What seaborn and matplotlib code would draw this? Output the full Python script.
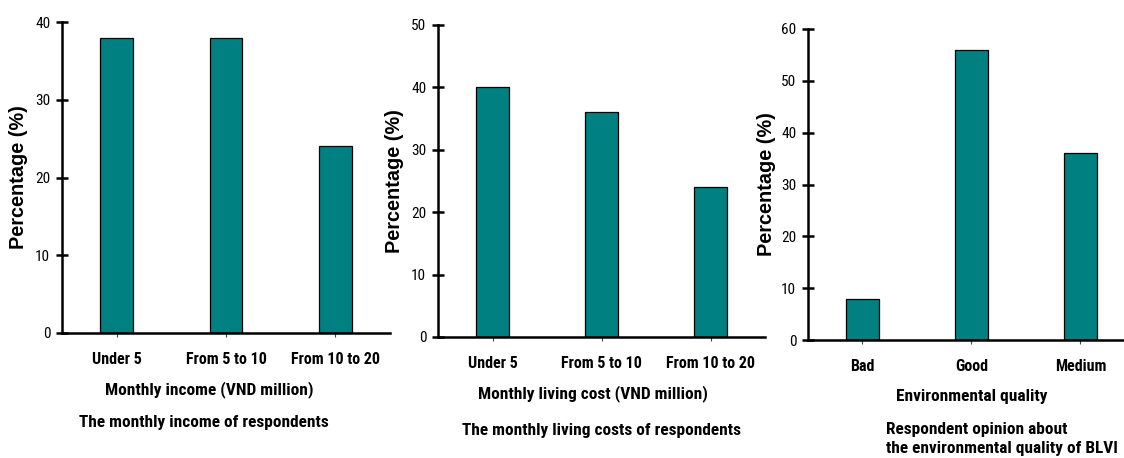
import matplotlib
matplotlib.use("Agg")
import matplotlib.pyplot as plt
from matplotlib import font_manager
import seaborn as sns
import pandas as pd

sns.set_theme(style="white")

names = {f.name for f in font_manager.fontManager.ttflist}
NARROW = "Roboto Condensed" if "Roboto Condensed" in names else "Liberation Sans"
REG = "Liberation Sans"
plt.rcParams["font.family"] = [REG, "DejaVu Sans"]
plt.rcParams["text.color"] = "black"
plt.rcParams["axes.labelcolor"] = "black"

# Data
income_cats = ["Under 5", "From 5 to 10", "From 10 to 20"]
income_vals = [38, 38, 24]
cost_cats = ["Under 5", "From 5 to 10", "From 10 to 20"]
cost_vals = [40, 36, 24]
env_cats = ["Bad", "Good", "Medium"]
env_vals = [8, 56, 36]

xlabels = ["Monthly income (VND million)", "Monthly living cost (VND million)", "Environmental quality"]
captions = ["The monthly income of respondents", "The monthly living costs of respondents",
            "Respondent opinion about\nthe environmental quality of BLVI"]
yticks_list = [[0, 10, 20, 30, 40], [0, 10, 20, 30, 40, 50], [0, 10, 20, 30, 40, 50, 60]]

W, H = 1124, 458
fig = plt.figure(figsize=(W / 100, H / 100), dpi=100)

def fx(px):
    return px / W

def fy(py):
    return 1 - py / H

# axes boxes in pixels: left, right, top(y of max tick), bottom(y of zero)
boxes = [(62, 390, 22, 333), (438, 765, 25, 337), (808, 1124, 29, 340)]
xlims = [(-0.5, 2.5), (-0.5, 2.5), (-0.5, 2.4)]
xlabel_pos = [(209, 390), (593, 394), (972, 397)]
caption_pos = [(204, 422, "center"), (601, 430, "center"), (886, 439, "left")]
ylabel_x = [19, 395, 766]

datasets = [(income_cats, income_vals), (cost_cats, cost_vals), (env_cats, env_vals)]
teal = "#008080"

for i, ((cats, vals), (l, r, t, b)) in enumerate(zip(datasets, boxes)):
    ax = fig.add_axes([fx(l), fy(b), fx(r - l), (b - t) / H])
    df = pd.DataFrame({"cat": cats, "val": vals})
    sns.barplot(data=df, x="cat", y="val", ax=ax, color=teal, saturation=1,
                width=0.3, edgecolor="black", linewidth=0.9)
    yt = yticks_list[i]
    ax.set_ylim(0, yt[-1])
    ax.set_xlim(*xlims[i])
    ax.set_yticks(yt)
    ax.set_yticklabels([str(v) for v in yt], fontfamily=NARROW, fontsize=11, color="black")
    ax.set_xticks(range(len(cats)))
    ax.set_xticklabels(cats, fontfamily=NARROW, fontsize=11.5, fontweight="bold", color="black")
    for side in ["top", "right"]:
        ax.spines[side].set_visible(False)
    for side in ["left", "bottom"]:
        ax.spines[side].set_visible(True)
        ax.spines[side].set_color("black")
        ax.spines[side].set_linewidth(1.8)
    ax.tick_params(axis="y", left=True, direction="inout", length=9, width=1.8,
                   color="black", labelcolor="black", pad=4)
    ax.tick_params(axis="x", bottom=True, direction="out", length=3, width=0.8,
                   color="#444444", labelcolor="black", pad=11)
    ax.set_xlabel(xlabels[i], fontfamily=NARROW, fontsize=12.5, fontweight="bold", color="black")
    ax.xaxis.set_label_coords(fx(xlabel_pos[i][0]), fy(xlabel_pos[i][1]), transform=fig.transFigure)
    ax.xaxis.label.set_va("center")
    ax.set_ylabel("Percentage (%)", fontsize=14.3, fontweight="bold", fontfamily=REG, color="black")
    ax.yaxis.set_label_coords(fx(ylabel_x[i]), fy((t + b) / 2), transform=fig.transFigure)
    ax.yaxis.label.set_va("center")
    ax.set_facecolor("none")
    ax.grid(False)
    cx, cy, ha = caption_pos[i]
    fig.text(fx(cx), fy(cy), captions[i], ha=ha, va="center", fontfamily=NARROW,
             fontsize=12.4, fontweight="bold", linespacing=1.3, color="black")

fig.savefig("out.png", dpi=100)
